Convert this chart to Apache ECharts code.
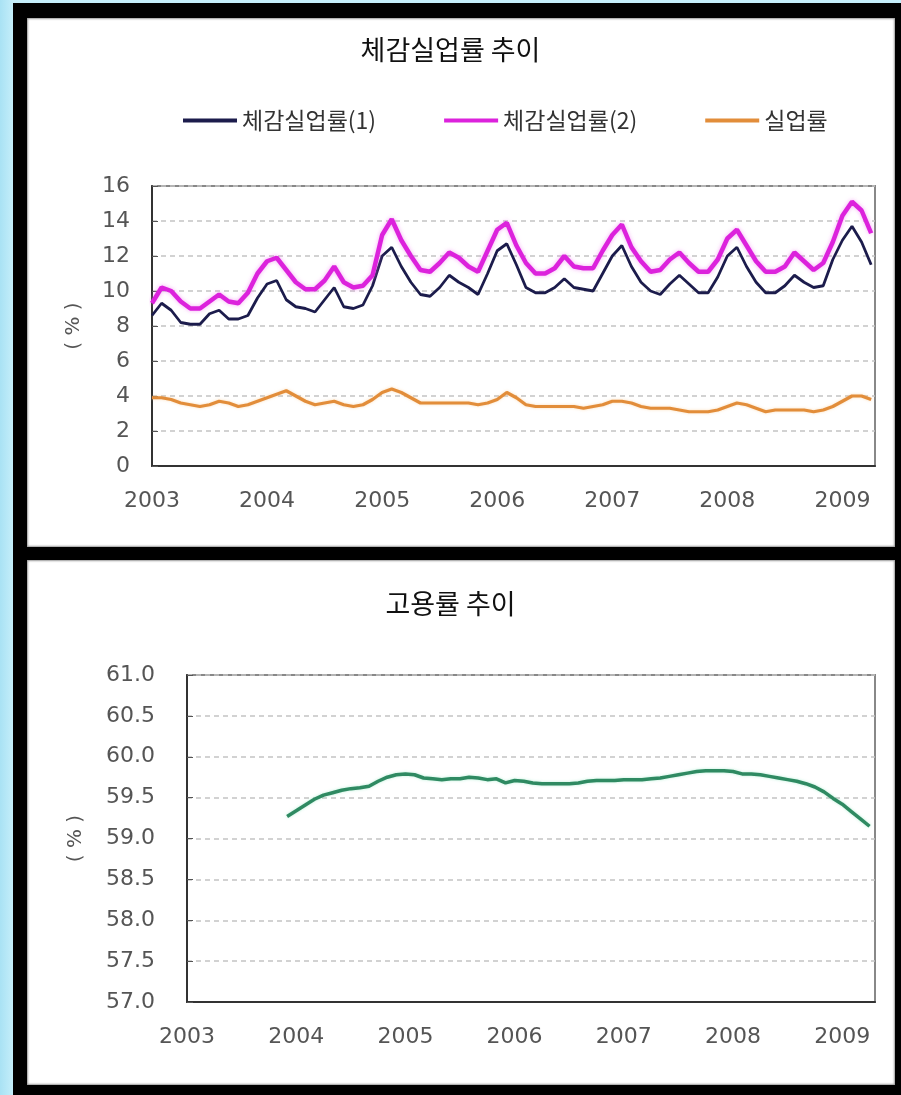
<!DOCTYPE html>
<html>
<head>
<meta charset="utf-8">
<script src="https://cdn.jsdelivr.net/npm/echarts@6/dist/echarts.min.js"></script>
<style>
html, body { margin: 0; padding: 0; }
body { width: 901px; height: 1095px; position: relative; overflow: hidden;
  background: linear-gradient(90deg, #a9e2f4 0, #c4eefa 13px); }
#frame { position: absolute; left: 13px; top: 3px; width: 888px; height: 1092px; background: #000; }
.panel { position: absolute; left: 27px; width: 868px; background: #fff; box-shadow: inset 0 0 2px 1px #999; }
#p1 { top: 18px; height: 529px; }
#p2 { top: 560px; height: 525px; }
#chart { position: absolute; left: 0; top: 0; width: 901px; height: 1095px; }
</style>
</head>
<body>
<div id="frame"></div>
<div class="panel" id="p1"></div>
<div class="panel" id="p2"></div>
<div id="chart"></div>
<script>
// monthly, Jan 2003 .. Apr 2009
var years = ['2003', '2004', '2005', '2006', '2007', '2008', '2009'];
var seriesNames = ['체감실업률(1)', '체감실업률(2)', '실업률'];

var rate1 = [8.6, 9.3, 8.9, 8.2, 8.1, 8.1, 8.7, 8.9, 8.4, 8.4, 8.6, 9.6,
  10.4, 10.6, 9.5, 9.1, 9.0, 8.8, 9.5, 10.2, 9.1, 9.0, 9.2, 10.3,
  12.0, 12.5, 11.4, 10.5, 9.8, 9.7, 10.2, 10.9, 10.5, 10.2, 9.8, 11.0,
  12.3, 12.7, 11.5, 10.2, 9.9, 9.9, 10.2, 10.7, 10.2, 10.1, 10.0, 11.0,
  12.0, 12.6, 11.4, 10.5, 10.0, 9.8, 10.4, 10.9, 10.4, 9.9, 9.9, 10.8,
  12.0, 12.5, 11.4, 10.5, 9.9, 9.9, 10.3, 10.9, 10.5, 10.2, 10.3, 11.8,
  12.9, 13.7, 12.8, 11.5];

var rate2 = [9.3, 10.2, 10.0, 9.4, 9.0, 9.0, 9.4, 9.8, 9.4, 9.3, 9.9, 11.0,
  11.7, 11.9, 11.2, 10.5, 10.1, 10.1, 10.6, 11.4, 10.5, 10.2, 10.3, 10.9,
  13.2, 14.1, 12.9, 12.0, 11.2, 11.1, 11.6, 12.2, 11.9, 11.4, 11.1, 12.3,
  13.5, 13.9, 12.6, 11.6, 11.0, 11.0, 11.3, 12.0, 11.4, 11.3, 11.3, 12.3,
  13.2, 13.8, 12.5, 11.7, 11.1, 11.2, 11.8, 12.2, 11.6, 11.1, 11.1, 11.8,
  13.0, 13.5, 12.6, 11.7, 11.1, 11.1, 11.4, 12.2, 11.7, 11.2, 11.6, 12.8,
  14.3, 15.1, 14.6, 13.3];

var unemp = [3.9, 3.9, 3.8, 3.6, 3.5, 3.4, 3.5, 3.7, 3.6, 3.4, 3.5, 3.7,
  3.9, 4.1, 4.3, 4.0, 3.7, 3.5, 3.6, 3.7, 3.5, 3.4, 3.5, 3.8,
  4.2, 4.4, 4.2, 3.9, 3.6, 3.6, 3.6, 3.6, 3.6, 3.6, 3.5, 3.6,
  3.8, 4.2, 3.9, 3.5, 3.4, 3.4, 3.4, 3.4, 3.4, 3.3, 3.4, 3.5,
  3.7, 3.7, 3.6, 3.4, 3.3, 3.3, 3.3, 3.2, 3.1, 3.1, 3.1, 3.2,
  3.4, 3.6, 3.5, 3.3, 3.1, 3.2, 3.2, 3.2, 3.2, 3.1, 3.2, 3.4,
  3.7, 4.0, 4.0, 3.8];

// 고용률: starts Dec 2003
var emp = [null, null, null, null, null, null, null, null, null, null, null, 59.27,
  59.34, 59.41, 59.48, 59.53, 59.56, 59.59, 59.61, 59.62, 59.64, 59.70, 59.75, 59.78,
  59.79, 59.78, 59.74, 59.73, 59.72, 59.73, 59.73, 59.75, 59.74, 59.72, 59.73, 59.68,
  59.71, 59.70, 59.68, 59.67, 59.67, 59.67, 59.67, 59.68, 59.70, 59.71, 59.71, 59.71,
  59.72, 59.72, 59.72, 59.73, 59.74, 59.76, 59.78, 59.80, 59.82, 59.83, 59.83, 59.83,
  59.82, 59.79, 59.79, 59.78, 59.76, 59.74, 59.72, 59.70, 59.67, 59.63, 59.57, 59.49,
  59.42, 59.33, 59.24, 59.15];

function pairs(arr) {
  return arr.map(function (v, i) { return [i, v]; });
}

var numFont = 'DejaVu Sans';
var krFont = 'Noto Sans CJK KR';
var labelColor = '#555';

function xAxisFor(gi, max) {
  return {
    type: 'value', gridIndex: gi, min: 0, max: max, interval: 12,
    axisLine: { lineStyle: { color: '#333', width: 2 } },
    axisTick: { show: false },
    splitLine: { show: false },
    axisLabel: {
      margin: 24, fontSize: 22, color: labelColor, fontFamily: numFont,
      formatter: function (v) { return v % 12 === 0 ? years[v / 12] : ''; }
    }
  };
}

var splitStyle = { show: true, lineStyle: { color: '#c4c4c4', type: [5, 4], width: 1.5 } };

var chart = echarts.init(document.getElementById('chart'));
var option = {
  animation: false,
  backgroundColor: 'transparent',
  title: [
    { text: '체감실업률 추이', left: 'center', top: 36, padding: 0,
      textStyle: { fontFamily: krFont, fontSize: 27, fontWeight: 'normal', color: '#111' } },
    { text: '고용률 추이', left: 'center', top: 590, padding: 0,
      textStyle: { fontFamily: krFont, fontSize: 27, fontWeight: 'normal', color: '#111' } }
  ],
  legend: {
    data: seriesNames, left: 183, top: 109, padding: 0,
    icon: 'rect', itemWidth: 54, itemHeight: 4, itemGap: 68,
    textStyle: { fontFamily: krFont, fontSize: 23, color: '#333' }
  },
  grid: [
    { left: 152, top: 186, width: 723, height: 280, show: true,
      backgroundColor: '#fff', borderColor: '#888', borderWidth: 2 },
    { left: 187, top: 675, width: 688, height: 327, show: true,
      backgroundColor: '#fff', borderColor: '#888', borderWidth: 2 }
  ],
  xAxis: [xAxisFor(0, 75.4), xAxisFor(1, 75.6)],
  yAxis: [
    { type: 'value', gridIndex: 0, min: 0, max: 16, interval: 2,
      name: '( % )', nameLocation: 'middle', nameGap: 68, nameRotate: 90,
      nameTextStyle: { fontFamily: numFont, fontSize: 20, color: labelColor },
      axisLine: { show: true, lineStyle: { color: '#333', width: 2 } },
      axisTick: { show: true, inside: true, length: 6, lineStyle: { color: '#555' } },
      splitLine: splitStyle,
      axisLabel: { margin: 22, fontSize: 22, color: labelColor, fontFamily: numFont } },
    { type: 'value', gridIndex: 1, min: 57, max: 61, interval: 0.5,
      name: '( % )', nameLocation: 'middle', nameGap: 101, nameRotate: 90,
      nameTextStyle: { fontFamily: numFont, fontSize: 20, color: labelColor },
      axisLine: { show: true, lineStyle: { color: '#333', width: 2 } },
      axisTick: { show: true, inside: true, length: 6, lineStyle: { color: '#555' } },
      splitLine: splitStyle,
      axisLabel: { margin: 32, fontSize: 22, color: labelColor, fontFamily: numFont,
        formatter: function (v) { return v.toFixed(1); } } }
  ],
  series: [
    { name: seriesNames[0], type: 'line', xAxisIndex: 0, yAxisIndex: 0, data: pairs(rate1),
      showSymbol: false, color: '#1c1c4c', lineStyle: { width: 2.8 } },
    { name: seriesNames[1], type: 'line', xAxisIndex: 0, yAxisIndex: 0, data: pairs(rate2),
      showSymbol: false, color: '#dc22dc',
      lineStyle: { width: 4.5, shadowColor: 'rgba(240,120,240,0.6)', shadowBlur: 4 } },
    { name: seriesNames[2], type: 'line', xAxisIndex: 0, yAxisIndex: 0, data: pairs(unemp),
      showSymbol: false, color: '#e28d3a',
      lineStyle: { width: 3.2, shadowColor: 'rgba(250,200,140,0.6)', shadowBlur: 3 } },
    { name: '고용률', type: 'line', xAxisIndex: 1, yAxisIndex: 1, data: pairs(emp),
      showSymbol: false, color: '#2f8a62',
      lineStyle: { width: 3.5, shadowColor: 'rgba(140,230,190,0.6)', shadowBlur: 3 } }
  ]
};
chart.setOption(option);
</script>
</body>
</html>
